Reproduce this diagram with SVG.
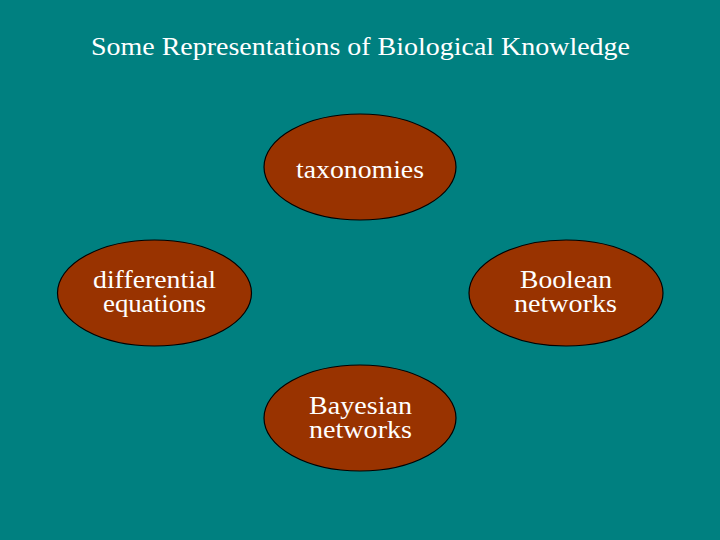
<svg xmlns="http://www.w3.org/2000/svg" width="720" height="540" viewBox="0 0 720 540">
<style>
.node ellipse{fill:#993300;stroke:#000;stroke-width:1.2}
.t{font-size:25px;fill:#ffffff;text-anchor:middle}
</style>
<rect x="0" y="0" width="720" height="540" fill="#008080"/>
<g font-family="Liberation Serif, DejaVu Serif, Times New Roman, serif">
<text class="t" x="360.5" y="55" font-size="26" textLength="539" lengthAdjust="spacingAndGlyphs">Some Representations of Biological Knowledge</text>
<g id="connectors"></g>
<g id="taxonomies" class="node">
<ellipse cx="360" cy="167" rx="96" ry="53"/>
<text class="t" x="360" y="178" textLength="128" lengthAdjust="spacingAndGlyphs">taxonomies</text>
</g>
<g id="differential-equations" class="node">
<ellipse cx="154.5" cy="293" rx="97" ry="53"/>
<text class="t" x="154.5" y="288" textLength="123" lengthAdjust="spacingAndGlyphs">differential</text>
<text class="t" x="154.5" y="312" textLength="103" lengthAdjust="spacingAndGlyphs">equations</text>
</g>
<g id="boolean-networks" class="node">
<ellipse cx="566" cy="293" rx="97" ry="53"/>
<text class="t" x="566" y="288" textLength="92" lengthAdjust="spacingAndGlyphs">Boolean</text>
<text class="t" x="565.5" y="312" textLength="103" lengthAdjust="spacingAndGlyphs">networks</text>
</g>
<g id="bayesian-networks" class="node">
<ellipse cx="360" cy="418" rx="96" ry="53"/>
<text class="t" x="360.5" y="414" textLength="103" lengthAdjust="spacingAndGlyphs">Bayesian</text>
<text class="t" x="360.5" y="438" textLength="103" lengthAdjust="spacingAndGlyphs">networks</text>
</g>
</g>
</svg>
